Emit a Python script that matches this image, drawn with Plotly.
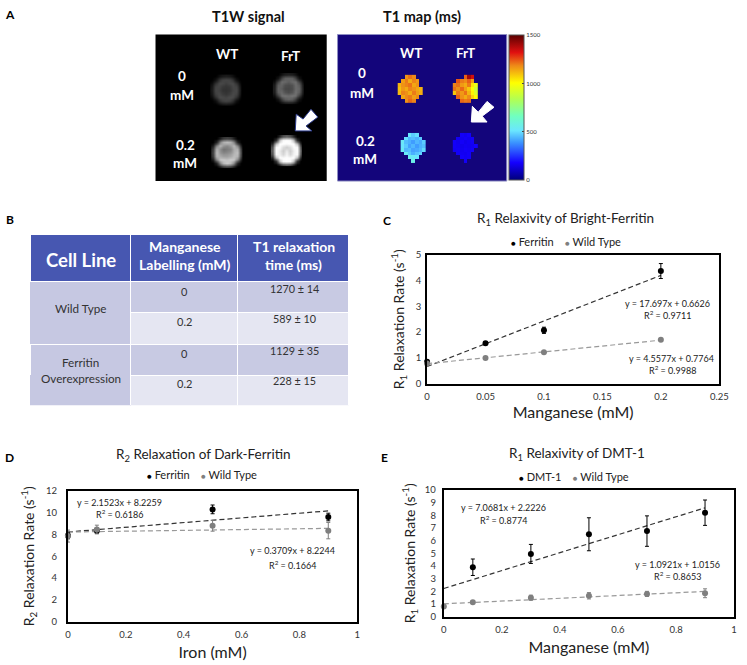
import plotly.graph_objects as go

W, H = 747, 665
FONT = "Lato"
N = None

# panel A, T1 map cells (ms)
map_wt_0 = [
    [N, N, 1170, 1210, 1180, N, N],
    [N, 1150, 1200, 1130, 1190, 1160, N],
    [1120, 1170, 1190, 1210, 1140, 1170, N],
    [1100, 1160, 1130, 1190, 1170, 1140, 1120],
    [1110, 1190, 1170, 1130, 1200, 1150, 1130],
    [N, 1140, 1180, 1200, 1150, 1180, N],
    [N, N, 1170, 1220, 1190, N, N],
]
map_frt_0 = [
    [N, N, N, 1230, 1400, 1340, N],
    [N, 1240, 1200, 1180, 1230, 1150, N],
    [1190, 1210, 1160, 1130, 1200, 1040, 960],
    [1210, 1170, 1220, 1150, 1090, 1000, 900],
    [1090, 1200, 1160, 1210, 1120, 1020, 930],
    [N, 1230, 1170, 1130, 1180, 1070, 1010],
    [N, N, 1220, 1200, 1210, N, N],
]
map_wt_02 = [
    [N, N, 520, 470, 500, N, N],
    [N, 500, 440, 450, 430, 470, N],
    [530, 450, 430, 400, 440, 420, 470],
    [510, 470, 410, 440, 400, 430, 450],
    [540, 440, 450, 410, 420, 440, 490],
    [N, 530, 470, 430, 460, 480, N],
    [N, N, 550, 530, 510, N, N],
    [N, N, N, 570, N, N, N],
]
map_frt_02 = [
    [N, N, 170, 160, 175, N, N],
    [N, 165, 160, 170, 160, 170, N],
    [175, 160, 170, 155, 165, 170, N],
    [170, 165, 155, 165, 160, 165, 180],
    [165, 170, 160, 170, 165, 175, N],
    [N, 170, 165, 160, 170, N, N],
    [N, N, 175, 165, 170, N, N],
    [N, N, N, 170, N, N, N],
]

# panel A, T1W signal (grey level)
sig_wt_0 = [
    [0, 0, 12, 22, 26, 22, 12, 0, 0],
    [0, 16, 48, 66, 70, 66, 48, 16, 0],
    [10, 48, 72, 72, 62, 72, 74, 48, 10],
    [20, 66, 70, 56, 52, 56, 72, 66, 20],
    [24, 70, 64, 50, 48, 52, 68, 72, 24],
    [20, 64, 72, 58, 52, 60, 74, 66, 20],
    [10, 46, 74, 74, 68, 76, 74, 48, 10],
    [0, 14, 46, 64, 70, 64, 46, 14, 0],
    [0, 0, 10, 20, 24, 20, 10, 0, 0],
]
sig_frt_0 = [
    [0, 0, 16, 28, 32, 28, 16, 0, 0],
    [0, 20, 66, 96, 100, 96, 66, 20, 0],
    [12, 66, 110, 104, 92, 106, 112, 66, 12],
    [26, 94, 100, 78, 74, 80, 110, 94, 26],
    [30, 100, 92, 72, 70, 76, 108, 102, 30],
    [26, 94, 106, 84, 76, 86, 114, 94, 26],
    [12, 62, 112, 116, 110, 118, 112, 62, 12],
    [0, 18, 60, 92, 100, 92, 60, 18, 0],
    [0, 0, 14, 26, 30, 26, 14, 0, 0],
]
sig_wt_02 = [
    [0, 0, 26, 56, 64, 56, 26, 0, 0],
    [0, 36, 130, 178, 190, 178, 130, 36, 0],
    [24, 130, 186, 150, 136, 156, 190, 130, 24],
    [52, 178, 144, 116, 124, 132, 176, 178, 52],
    [60, 190, 150, 134, 140, 150, 180, 192, 60],
    [52, 180, 172, 160, 160, 170, 190, 180, 52],
    [24, 132, 200, 204, 196, 206, 200, 132, 24],
    [0, 36, 130, 186, 204, 186, 130, 36, 0],
    [0, 0, 26, 56, 66, 56, 26, 0, 0],
]
sig_frt_02 = [
    [0, 0, 36, 80, 96, 80, 36, 0, 0],
    [0, 50, 190, 250, 255, 250, 190, 50, 0],
    [34, 190, 255, 255, 250, 255, 255, 190, 34],
    [78, 250, 252, 220, 205, 220, 252, 250, 78],
    [94, 255, 235, 205, 235, 205, 238, 255, 94],
    [78, 250, 240, 215, 245, 215, 244, 250, 78],
    [34, 190, 255, 252, 255, 252, 255, 190, 34],
    [0, 50, 190, 250, 255, 250, 190, 50, 0],
    [0, 0, 36, 80, 94, 80, 36, 0, 0],
]

# panel B
table_labelling = ["0", "0.2", "0", "0.2"]
table_t1 = ["1270 ± 14", "589 ± 10", "1129 ± 35", "228 ± 15"]

# panel C
c_x = [0, 0.05, 0.1, 0.2]
c_ferritin = [0.85, 1.57, 2.07, 4.37]
c_ferritin_err = [0.06, 0.06, 0.12, 0.29]
c_wt = [0.78, 1.0, 1.22, 1.7]
c_wt_err = [0.04, 0.03, 0.03, 0.03]
c_fit_x = [0, 0.2]
c_ferritin_fit = [0.663, 4.202]
c_wt_fit = [0.776, 1.688]

# panel D
d_x = [0, 0.1, 0.5, 0.9]
d_ferritin = [7.9, 8.35, 10.3, 9.6]
d_ferritin_err = [0.3, 0.25, 0.4, 0.35]
d_wt = [7.85, 8.45, 8.8, 8.35]
d_wt_err = [0.55, 0.4, 0.5, 0.75]
d_fit_x = [0, 0.9]
d_ferritin_fit = [8.226, 10.163]
d_wt_fit = [8.224, 8.558]

# panel E
e_x_dmt = [0.1, 0.3, 0.5, 0.7, 0.9]
e_dmt = [3.9, 4.95, 6.5, 6.75, 8.2]
e_dmt_err = [0.65, 0.75, 1.3, 1.2, 1.0]
e_x_wt = [0, 0.1, 0.3, 0.5, 0.7, 0.9]
e_wt = [0.8, 1.15, 1.5, 1.65, 1.8, 1.85]
e_wt_err = [0.05, 0.1, 0.2, 0.25, 0.2, 0.35]
e_fit_x = [0, 0.9]
e_dmt_fit = [2.223, 8.584]
e_wt_fit = [1.016, 1.998]

jet = [[0, "#00007a"], [0.12, "#1400ff"], [0.26, "#3c96ff"], [0.34, "#6ae6ff"],
       [0.44, "#70ffc0"], [0.56, "#b4ff50"], [0.67, "#ffff00"], [0.79, "#ee8818"],
       [0.88, "#e01010"], [1, "#5a0000"]]


def px_x(v):
    return v / W


def px_y(v):
    return 1 - v / H


def dom_x(l, r):
    return [px_x(l), px_x(r)]


def dom_y(t, b):
    return [px_y(b), px_y(t)]


def label(x, y, text, size=9, color="#222222", bold=False, **kw):
    return dict(xref="paper", yref="paper", x=px_x(x), y=px_y(y), text=f"<b>{text}</b>" if bold else text,
                showarrow=False, xanchor="center", yanchor="middle",
                font=dict(family=FONT, size=size, color=color), **kw)


def legend_label(x, y, first):
    dot = "<span style='color:{};font-size:8px'>●</span>"
    return label(x, y, dot.format("#000000") + " " + first + "    " + dot.format("#7f7f7f") + " Wild Type", 11)


def arrow(points, line):
    path = "M " + " L ".join(f"{px_x(a):.4f},{px_y(b):.4f}" for a, b in points) + " Z"
    return dict(type="path", xref="paper", yref="paper", path=path, fillcolor="white",
                line=dict(color=line, width=1), layer="above")


fig = go.Figure()

# --------------------------
# A: T1W signal and T1 map
# --------------------------
for z, x0, y0 in [(sig_wt_0, 212.5, 71.5), (sig_frt_0, 276, 70), (sig_wt_02, 213.5, 135), (sig_frt_02, 274, 133)]:
    fig.add_trace(go.Heatmap(z=z, x0=x0, dx=3.5, y0=y0, dy=3.5, coloraxis="coloraxis2",
                             zsmooth="best", xaxis="x", yaxis="y"))
for z, x0, y0, dy in [(map_wt_0, 403, 72, 4), (map_frt_0, 459, 72, 4), (map_wt_02, 406, 131, 3.8), (map_frt_02, 459, 131, 3.8)]:
    fig.add_trace(go.Heatmap(z=z, x0=x0, dx=3.7, y0=y0, dy=dy, coloraxis="coloraxis", xaxis="x2", yaxis="y2"))

# --------------------------
# B: table, text goes on top as annotations so merged cells can be centred
# --------------------------
fill_a, fill_b, fill_side = "#c8cae3", "#e5e6f2", "#c6c8e2"
fig.add_trace(go.Table(
    domain=dict(x=dom_x(28, 352), y=dom_y(232, 406)),
    columnwidth=[102, 109, 113],
    header=dict(values=["", "", ""], height=47, fill_color="#4757b1",
                line=dict(color="white", width=1)),
    cells=dict(values=[["", "", "", ""], ["", "", "", ""], ["", "", "", ""]], height=31.5,
               fill_color=[[fill_side] * 4, [fill_a, fill_b, fill_a, fill_b], [fill_a, fill_b, fill_a, fill_b]],
               line=dict(color=[[fill_side, fill_side, "white", fill_side], ["white"] * 4, ["white"] * 4], width=1)),
))

# --------------------------
# C, D, E: relaxation charts
# --------------------------
BLACK, GREY = "#000000", "#7f7f7f"


def series(x, y, err, name, color, axis):
    xa, ya = axis
    fig.add_trace(go.Scatter(x=x, y=y, mode="markers", name=name, xaxis=xa, yaxis=ya, showlegend=False,
                             marker=dict(color=color, size=6), cliponaxis=False,
                             error_y=dict(type="data", array=err, color=color, thickness=1, width=2)))


def fit(x, y, color, axis):
    xa, ya = axis
    fig.add_trace(go.Scatter(x=x, y=y, mode="lines", showlegend=False, xaxis=xa, yaxis=ya,
                             line=dict(color=color, width=1.2, dash="5px,3px")))


fit(c_fit_x, c_ferritin_fit, "#333333", ("x3", "y3"))
fit(c_fit_x, c_wt_fit, "#999999", ("x3", "y3"))
series(c_x, c_ferritin, c_ferritin_err, "Ferritin", BLACK, ("x3", "y3"))
series(c_x, c_wt, c_wt_err, "Wild Type", GREY, ("x3", "y3"))

fit(d_fit_x, d_ferritin_fit, "#333333", ("x4", "y4"))
fit(d_fit_x, d_wt_fit, "#999999", ("x4", "y4"))
series(d_x, d_ferritin, d_ferritin_err, "Ferritin", BLACK, ("x4", "y4"))
series(d_x, d_wt, d_wt_err, "Wild Type", GREY, ("x4", "y4"))

fit(e_fit_x, e_dmt_fit, "#333333", ("x5", "y5"))
fit(e_fit_x, e_wt_fit, "#999999", ("x5", "y5"))
series(e_x_dmt, e_dmt, e_dmt_err, "DMT-1", BLACK, ("x5", "y5"))
series(e_x_wt, e_wt, e_wt_err, "Wild Type", GREY, ("x5", "y5"))


def image_axes(n, l, r, t, b):
    return (dict(domain=dom_x(l, r), range=[l, r], visible=False, fixedrange=True, anchor=f"y{n}"),
            dict(domain=dom_y(t, b), range=[b, t], visible=False, fixedrange=True, anchor=f"x{n}"))


def chart_x(n, l, r, rng, dtick, title, standoff):
    return dict(domain=dom_x(l, r), range=rng, dtick=dtick, showgrid=False, zeroline=False, anchor=f"y{n}",
                showline=True, mirror=True, linecolor="black", linewidth=2, ticks="", ticklabelstandoff=3,
                tickfont=dict(family=FONT, size=9.5, color="#333333"),
                title=dict(text=title, font=dict(family=FONT, size=16, color="#222222"), standoff=standoff))


def chart_y(n, t, b, rng, dtick, title, tick_off, standoff):
    return dict(domain=dom_y(t, b), range=rng, dtick=dtick, showgrid=False, zeroline=False, anchor=f"x{n}",
                showline=True, mirror=True, linecolor="black", linewidth=2, ticks="", ticklabelstandoff=tick_off,
                tickfont=dict(family=FONT, size=9.5, color="#333333"),
                title=dict(text=title, font=dict(family=FONT, size=14, color="#222222"), standoff=standoff))


xa1, ya1 = image_axes(1, 155, 329, 29, 178)
xa2, ya2 = image_axes(2, 340, 512, 29, 178)
xa1["anchor"], ya1["anchor"] = "y", "x"

annotations = [
    label(7, 9, "A", 12, "black", True),
    label(7, 217, "B", 12, "black", True),
    label(390, 218, "C", 12, "black", True),
    label(7, 459, "D", 12, "black", True),
    label(388, 459, "E", 12, "black", True),
    label(249, 11, "T1W signal", 14.5, "#111111", True),
    label(426, 11, "T1 map (ms)", 14.5, "#111111", True),
]
# white labels on the two image panels
for wt_xy, frt_xy, zero_xy, mm0_xy, low_xy, mm2_xy in [
    ((228, 49), (292, 51), (182, 71), (182, 90), (185, 141), (185, 160)),
    ((415, 48), (470, 48), (365, 68), (365, 88), (368, 137), (368, 156)),
]:
    annotations += [
        label(*wt_xy, "WT", 13.5, "white", True),
        label(*frt_xy, "FrT", 13.5, "white", True),
        label(*zero_xy, "0", 13.5, "white", True),
        label(*mm0_xy, "mM", 13.5, "white", True),
        label(*low_xy, "0.2", 13.5, "white", True),
        label(*mm2_xy, "mM", 13.5, "white", True),
    ]

# table text
annotations += [
    label(79, 258, "Cell Line", 18.5, "white", True),
    label(184.5, 245, "Manganese", 14, "white", True),
    label(184.5, 263, "Labelling (mM)", 14, "white", True),
    label(295.5, 245, "T1 relaxation", 14, "white", True),
    label(295.5, 263, "time (ms)", 14, "white", True),
    label(79, 307, "Wild Type", 11.7, "#333333"),
    label(79, 362, "Ferritin", 11.7, "#333333"),
    label(79, 378, "Overexpression", 11.7, "#333333"),
]
for value, y in zip(table_labelling, [290, 321, 353, 384]):
    annotations.append(label(184.5, y, value, 11, "#333333"))
for value, y in zip(table_t1, [287, 318, 350, 381]):
    annotations.append(label(296, y, value, 10.8, "#333333"))

# chart titles, legends and trendline equations
annotations += [
    label(572, 217, "R<sub>1</sub> Relaxivity of Bright-Ferritin", 13.5),
    legend_label(572, 239, "Ferritin"),
    label(675, 302, "y = 17.697x + 0.6626", 9),
    label(675, 314, "R<sup>2</sup> = 0.9711", 9),
    label(679, 358, "y = 4.5577x + 0.7764", 9),
    label(680, 370, "R<sup>2</sup> = 0.9988", 9),
    label(204, 457, "R<sub>2</sub> Relaxation of Dark-Ferritin", 13.5),
    legend_label(202, 476, "Ferritin"),
    label(118, 505, "y = 2.1523x + 8.2259", 9),
    label(118, 517, "R<sup>2</sup> = 0.6186", 9),
    label(294, 554, "y = 0.3709x + 8.2244", 9),
    label(294, 568, "R<sup>2</sup> = 0.1664", 9),
    label(583, 456, "R<sub>1</sub> Relaxivity of DMT-1", 13.5),
    legend_label(580, 478, "DMT-1"),
    label(509, 510, "y = 7.0681x + 2.2226", 9),
    label(509, 523, "R<sup>2</sup> = 0.8774", 9),
    label(686, 568, "y = 1.0921x + 1.0156", 9),
    label(686, 580, "R<sup>2</sup> = 0.8653", 9),
]

fig.update_layout(
    width=W, height=H, margin=dict(l=0, r=0, t=0, b=0), autosize=False,
    paper_bgcolor="white", plot_bgcolor="white",
    font=dict(family=FONT),
    xaxis=xa1, yaxis=ya1, xaxis2=xa2, yaxis2=ya2,
    xaxis3=chart_x(3, 431, 728, [0, 0.25], 0.05, "Manganese (mM)", 5),
    yaxis3=chart_y(3, 253, 384, [0, 5], 1, "R<sub>1</sub> Relaxation Rate (s<sup>-1</sup>)", 2, 8),
    xaxis4=chart_x(4, 66, 360, [0, 1], 0.2, "Iron (mM)", 8),
    yaxis4=chart_y(4, 493, 626, [0, 12], 2, "R<sub>2</sub> Relaxation Rate (s<sup>-1</sup>)", 7, 8),
    xaxis5=chart_x(5, 448, 743, [0, 1], 0.2, "Manganese (mM)", 8),
    yaxis5=chart_y(5, 492, 621, [0, 10], 1, "R<sub>1</sub> Relaxation Rate (s<sup>-1</sup>)", 4, 6),
    coloraxis=dict(colorscale=jet, cmin=0, cmax=1500,
                   colorbar=dict(x=px_x(514), xanchor="left", y=px_y(177), yanchor="bottom",
                                 len=147 / H, lenmode="fraction", thickness=15, thicknessmode="pixels",
                                 tickvals=[0, 500, 1000, 1500], ticks="inside", ticklen=2,
                                 outlinecolor="#555555", outlinewidth=1, xpad=0, ypad=0,
                                 tickfont=dict(family=FONT, size=6, color="#333333"))),
    coloraxis2=dict(colorscale=[[0, "black"], [1, "white"]], cmin=0, cmax=255, showscale=False),
    annotations=annotations,
    shapes=[
        dict(type="rect", xref="paper", yref="paper", x0=px_x(155), x1=px_x(329), y0=px_y(178), y1=px_y(29),
             fillcolor="black", line=dict(width=0), layer="below"),
        dict(type="rect", xref="paper", yref="paper", x0=px_x(340), x1=px_x(512), y0=px_y(178), y1=px_y(29),
             fillcolor="#13057b", line=dict(color="#8f8fc4", width=1), layer="below"),
        arrow([(297, 127), (314, 127), (308, 122), (320, 113), (313, 105), (305, 115), (298, 110)], "#2b3a8c"),
        arrow([(476, 118), (492, 118), (487, 112), (499, 103), (492, 97), (483, 108), (477, 102)], "white"),
    ],
)

fig.write_html("out.html", config=dict(displayModeBar=False),
               post_script="document.body.style.margin='0';")
